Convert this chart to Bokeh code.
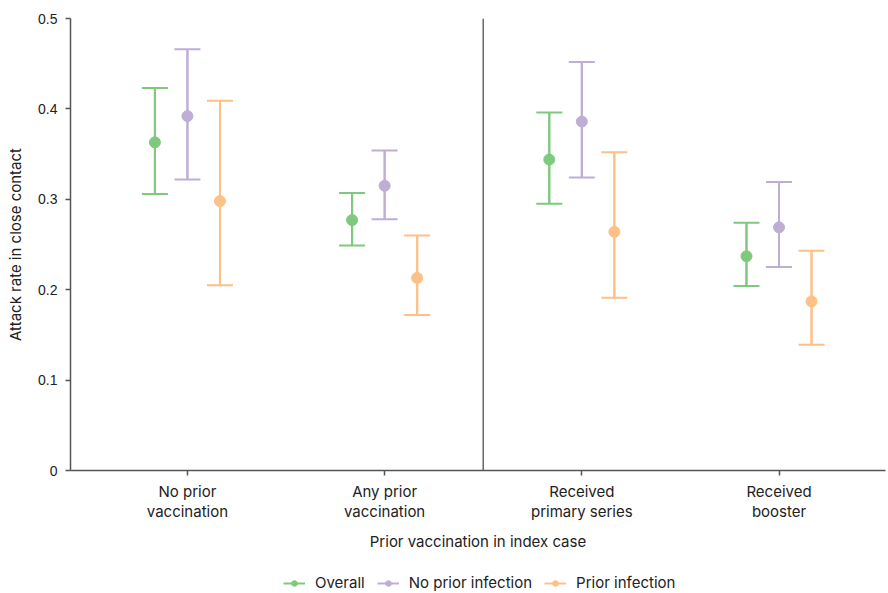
from bokeh.plotting import figure
from bokeh.layouts import column
from bokeh.models import (ColumnDataSource, Whisker, TeeHead, Span, Legend, LegendItem,
                          FixedTicker, Range1d)
from bokeh.embed import file_html
from bokeh.resources import INLINE

categories = ["No prior\nvaccination", "Any prior\nvaccination",
              "Received\nprimary series", "Received\nbooster"]
series = ["Overall", "No prior infection", "Prior infection"]

overall_est = [0.363, 0.277, 0.344, 0.237]
overall_lo = [0.306, 0.249, 0.295, 0.204]
overall_hi = [0.423, 0.307, 0.396, 0.274]

noinf_est = [0.392, 0.315, 0.386, 0.269]
noinf_lo = [0.322, 0.278, 0.324, 0.225]
noinf_hi = [0.466, 0.354, 0.452, 0.319]

priorinf_est = [0.298, 0.213, 0.264, 0.187]
priorinf_lo = [0.205, 0.172, 0.191, 0.139]
priorinf_hi = [0.409, 0.260, 0.352, 0.243]

y_ticks = [0, 0.1, 0.2, 0.3, 0.4, 0.5]

colors = ["#7fc97f", "#beaed4", "#fdc086"]
offsets = [-0.165, 0.0, 0.165]
FONT = "Inter"
TICKFONT = "Liberation Sans"
TXT = "#222222"
AX = "#555555"
FS = "15px"

P_H = 560
p = figure(width=888, height=P_H, output_backend="svg", toolbar_location=None,
           x_range=Range1d(-0.593, 3.54), y_range=Range1d(0, 0.5),
           min_border_left=70, min_border_right=3, min_border_top=18, min_border_bottom=90)
p.outline_line_color = None
p.grid.visible = False
p.background_fill_color = "white"
p.border_fill_color = "white"

# legend strip (same data sources, drawn off-view; only the legend shows)
lg = figure(width=888, height=593 - P_H, output_backend="svg", toolbar_location=None,
            x_range=Range1d(100, 101), y_range=Range1d(100, 101),
            min_border=0)
lg.axis.visible = False
lg.grid.visible = False
lg.outline_line_color = None
lg.border_fill_color = "white"

data = [(overall_est, overall_lo, overall_hi),
        (noinf_est, noinf_lo, noinf_hi),
        (priorinf_est, priorinf_lo, priorinf_hi)]

items = []
for (est, lo, hi), c, off, name in zip(data, colors, offsets, series):
    xs = [i + off for i in range(len(categories))]
    src = ColumnDataSource(dict(x=xs, y=est, lo=lo, hi=hi))
    w = Whisker(base="x", lower="lo", upper="hi", source=src, line_color=c, line_width=2,
                upper_head=TeeHead(size=26, line_color=c, line_width=2),
                lower_head=TeeHead(size=26, line_color=c, line_width=2))
    p.add_layout(w)
    p.segment(x0="x", x1="x", y0="lo", y1="hi", source=src, line_color=c, line_width=2)
    p.scatter("x", "y", source=src, size=11, fill_color=c, line_color=c)
    seg = lg.segment(x0="x", x1="x", y0="lo", y1="hi", source=src, line_color=c, line_width=2)
    sc = lg.scatter("x", "y", source=src, size=11, fill_color=c, line_color=c)
    items.append(LegendItem(label=name, renderers=[seg, sc]))

p.add_layout(Span(location=1.5, dimension="height", line_color="#666666", line_width=1.5))

# axes
p.xaxis.ticker = FixedTicker(ticks=list(range(len(categories))))
p.xaxis.major_label_overrides = {i: c for i, c in enumerate(categories)}
p.yaxis.ticker = FixedTicker(ticks=y_ticks)
p.yaxis.major_label_overrides = {0: "0"}
for ax in (p.xaxis, p.yaxis):
    ax.axis_line_color = AX
    ax.axis_line_width = 1.5
    ax.major_tick_line_color = AX
    ax.major_tick_line_width = 1.5
    ax.major_tick_out = 5
    ax.major_tick_in = 0
    ax.minor_tick_line_color = None
    ax.major_label_text_font = FONT
    ax.major_label_text_font_size = FS
    ax.major_label_text_color = TXT
    ax.axis_label_text_font = FONT
    ax.axis_label_text_font_size = FS
    ax.axis_label_text_color = TXT
    ax.axis_label_text_font_style = "normal"
p.yaxis.major_label_text_font = TICKFONT
p.yaxis.major_label_text_font_size = "14px"
p.xaxis.major_label_text_line_height = 1.1
p.xaxis.axis_label = "Prior vaccination in index case"
p.yaxis.axis_label = "Attack rate in close contact"
p.xaxis.major_label_standoff = 6
p.yaxis.major_label_standoff = 8
p.xaxis.axis_label_standoff = 8
p.yaxis.axis_label_standoff = 10

legend = Legend(items=items, orientation="horizontal", location=(213, 1),
                label_text_font=FONT, label_text_font_size=FS, label_text_color=TXT,
                glyph_width=22, glyph_height=14, label_standoff=10, spacing=12,
                padding=2, margin=0, border_line_color=None, background_fill_alpha=0)
lg.add_layout(legend)

layout = column(p, lg, spacing=0)
open("out.html", "w").write(file_html(layout, INLINE))
